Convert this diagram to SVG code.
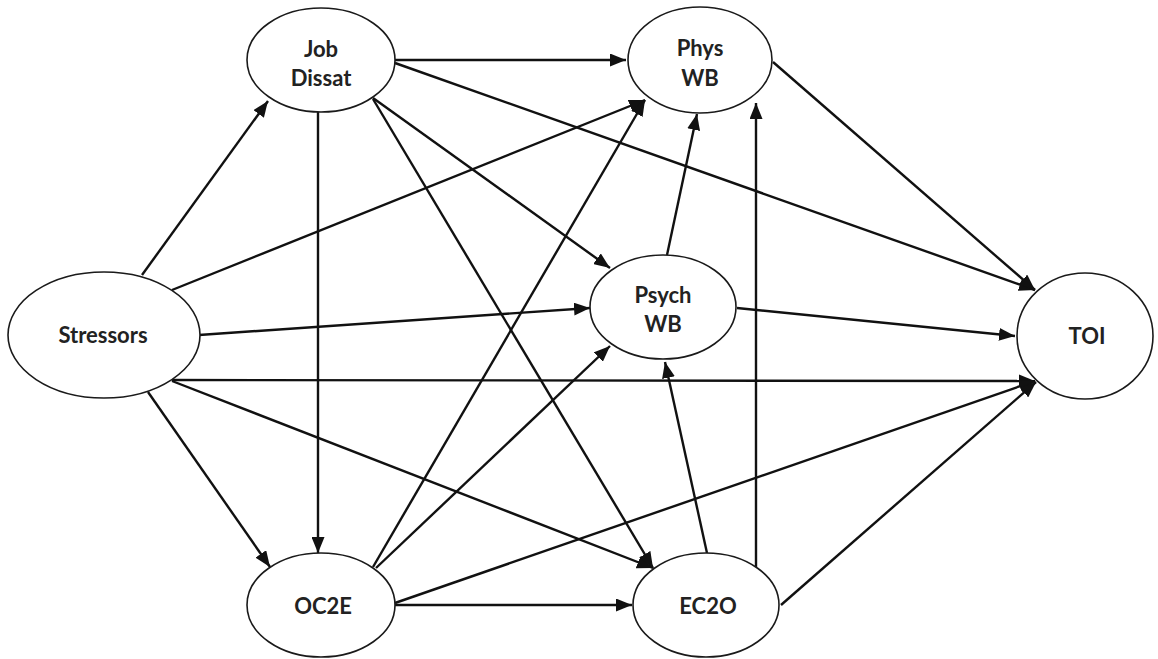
<svg xmlns="http://www.w3.org/2000/svg" width="1158" height="659" viewBox="0 0 1158 659">
  <style>
    .node ellipse { fill: #ffffff; stroke: #1a1a1a; stroke-width: 1.6; }
    .node text { font-family: Lato, "Open Sans", sans-serif; font-weight: 700; font-size: 22px; fill: #222222; text-anchor: middle; }
    .edges line { stroke: #111111; stroke-width: 2.4; marker-end: url(#arrow); }
  </style>
  <defs>
    <marker id="arrow" markerUnits="userSpaceOnUse" markerWidth="17" markerHeight="13" refX="16" refY="6.5" orient="auto">
      <path d="M0,0 L16,6.5 L0,13 z" fill="#111111"/>
    </marker>
  </defs>
  <rect width="1158" height="659" fill="#ffffff"/>

  <!-- connectors -->
  <g class="edges">
    <!-- from Stressors -->
    <line x1="142" y1="275" x2="268" y2="101"/>
    <line x1="172" y1="290" x2="645" y2="100"/>
    <line x1="199" y1="335" x2="590" y2="308"/>
    <line x1="172" y1="380" x2="1035" y2="381"/>
    <line x1="148" y1="392" x2="270" y2="567"/>
    <line x1="172" y1="381" x2="653" y2="568"/>
    <!-- from Job Dissat -->
    <line x1="395" y1="60" x2="626" y2="60"/>
    <line x1="395" y1="63" x2="1035" y2="290"/>
    <line x1="373" y1="98" x2="610" y2="268"/>
    <line x1="318" y1="112" x2="318" y2="553"/>
    <line x1="373" y1="99" x2="653" y2="568"/>
    <!-- from Phys WB -->
    <line x1="773" y1="62" x2="1035" y2="290"/>
    <!-- from Psych WB -->
    <line x1="667" y1="255" x2="697" y2="114"/>
    <line x1="737" y1="308" x2="1015" y2="336"/>
    <!-- from OC2E -->
    <line x1="373" y1="567" x2="645" y2="100"/>
    <line x1="376" y1="568" x2="610" y2="346"/>
    <line x1="395" y1="603" x2="1035" y2="381"/>
    <line x1="395" y1="605" x2="632" y2="605"/>
    <!-- from EC2O -->
    <line x1="707" y1="553" x2="665" y2="362"/>
    <line x1="756" y1="567" x2="756" y2="103"/>
    <line x1="781" y1="605" x2="1036" y2="382"/>
  </g>

  <!-- nodes -->
  <g id="stressors" class="node">
    <ellipse cx="104" cy="335" rx="96" ry="63"/>
    <text x="103" y="343">Stressors</text>
  </g>
  <g id="job-dissat" class="node">
    <ellipse cx="321" cy="60" rx="74" ry="52"/>
    <text x="321" y="57">Job</text>
    <text x="321" y="86">Dissat</text>
  </g>
  <g id="phys-wb" class="node">
    <ellipse cx="700" cy="60" rx="72" ry="53"/>
    <text x="700" y="56">Phys</text>
    <text x="700" y="86">WB</text>
  </g>
  <g id="psych-wb" class="node">
    <ellipse cx="663" cy="307" rx="73" ry="52"/>
    <text x="663" y="303">Psych</text>
    <text x="663" y="332">WB</text>
  </g>
  <g id="toi" class="node">
    <ellipse cx="1085" cy="336" rx="68" ry="63"/>
    <text x="1087" y="344">TOI</text>
  </g>
  <g id="oc2e" class="node">
    <ellipse cx="321" cy="605" rx="74" ry="52"/>
    <text x="323" y="614">OC2E</text>
  </g>
  <g id="ec2o" class="node">
    <ellipse cx="706" cy="605" rx="73" ry="52"/>
    <text x="708" y="614">EC2O</text>
  </g>
</svg>
